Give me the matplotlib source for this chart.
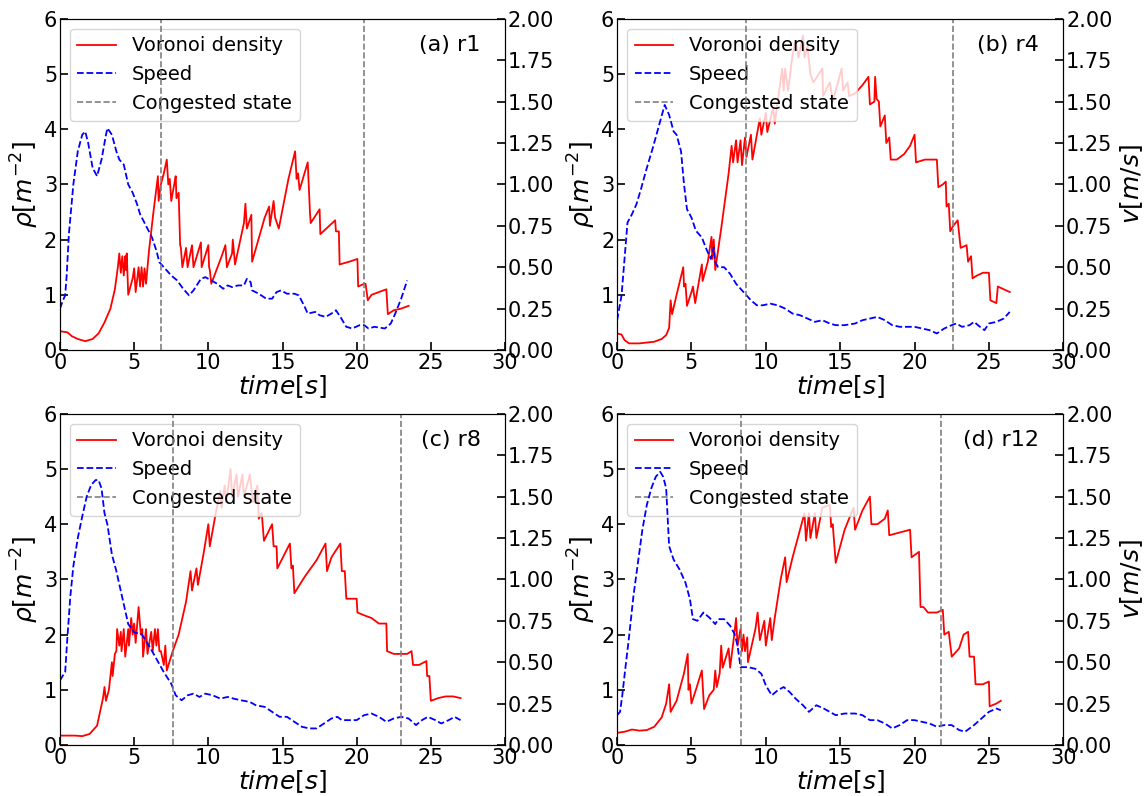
import matplotlib
matplotlib.use('Agg')
import matplotlib.pyplot as plt

# ---- (a) r1 ----
t_rho_a = [0, 0.5, 0.8, 1.2, 1.7, 2.2, 2.6, 3.0, 3.4, 3.7, 3.9, 4.0, 4.1, 4.2, 4.3, 4.4, 4.45, 4.5, 4.6,
           4.9, 5.0, 5.1, 5.3, 5.4, 5.5, 5.6, 5.7, 5.8, 6.0, 6.3, 6.6, 6.65, 6.8, 7.0, 7.2, 7.3, 7.4, 7.5,
           7.7, 7.8, 7.85, 8.0, 8.1, 8.15, 8.25, 8.5, 8.6, 8.9, 9.0, 9.5, 9.55, 10.0, 10.05, 10.1, 10.2,
           10.9, 11.15, 11.25, 11.6, 11.65, 11.8, 12.4, 12.5, 12.6, 12.9, 12.95, 13.8, 14.1, 14.15, 14.4,
           14.5, 14.75, 15.4, 15.85, 15.95, 16.05, 16.15, 16.7, 16.85, 16.9, 17.5, 17.55, 18.55, 18.6,
           18.8, 18.85, 19.5, 20.05, 20.1, 20.5, 20.6, 20.75, 21.0, 21.5, 22.0, 22.1, 22.5, 23.0, 23.5]
rho_a = [0.34, 0.32, 0.25, 0.2, 0.16, 0.2, 0.3, 0.5, 0.75, 1.1, 1.5, 1.75, 1.4, 1.7, 1.35, 1.7, 1.45, 1.75, 1.0,
         1.3, 1.48, 1.05, 1.5, 1.15, 1.5, 1.15, 1.48, 1.2, 1.8, 2.5, 3.15, 2.7, 3.0, 3.2, 3.45, 3.0, 3.1, 2.7,
         3.0, 3.15, 2.75, 2.85, 1.9, 1.85, 1.5, 1.85, 1.5, 1.9, 1.5, 1.95, 1.5, 1.9, 1.5, 1.45, 1.2,
         1.7, 1.9, 1.5, 1.75, 2.0, 1.55, 2.3, 2.65, 2.2, 2.45, 1.6, 2.4, 2.6, 2.25, 2.7,
         2.4, 2.2, 3.1, 3.6, 3.1, 3.2, 2.9, 3.4, 2.5, 2.3, 2.55, 2.1, 2.35, 2.15,
         2.15, 1.55, 1.6, 1.65, 1.15, 1.2, 1.2, 0.9, 1.0, 1.05, 1.1, 0.65, 0.72, 0.75, 0.8]
t_v_a = [0, 0.2, 0.35, 0.45, 0.6, 0.9, 1.2, 1.5, 1.7, 1.9, 2.2, 2.5, 2.8, 3.1, 3.2, 3.5, 3.8, 4.0, 4.3, 4.6,
         4.9, 5.2, 5.4, 5.8, 6.2, 6.5, 6.7, 7.0, 7.5, 7.9, 8.3, 8.7, 9.0, 9.5, 9.8, 10.2, 10.6, 11.0, 11.3,
         11.6, 12.0, 12.4, 12.6, 12.85, 12.95, 13.4, 13.9, 14.3, 14.6, 14.9, 15.3, 15.8, 16.1, 16.5, 16.7,
         17.2, 17.5, 17.9, 18.3, 18.6, 18.9, 19.3, 19.7, 20.2, 20.5, 20.8, 21.2, 21.9, 22.3, 22.6, 23.0, 23.4]
v_a = [0.25, 0.3, 0.33, 0.45, 0.7, 1.0, 1.2, 1.3, 1.32, 1.25, 1.1, 1.05, 1.15, 1.3, 1.34, 1.3, 1.2, 1.15, 1.12, 1.0,
       0.95, 0.88, 0.82, 0.75, 0.68, 0.6, 0.53, 0.5, 0.45, 0.42, 0.37, 0.33, 0.36, 0.43, 0.44, 0.42, 0.4, 0.37, 0.39,
       0.38, 0.39, 0.39, 0.43, 0.41, 0.36, 0.34, 0.31, 0.31, 0.35, 0.36, 0.34, 0.34, 0.33, 0.26, 0.22,
       0.23, 0.21, 0.2, 0.22, 0.24, 0.2, 0.14, 0.13, 0.15, 0.15, 0.13, 0.14, 0.13, 0.16, 0.22, 0.31, 0.42]
cong_a = [6.8, 20.5]

# ---- (b) r4 ----
t_rho_b = [0, 0.3, 0.5, 0.8, 1.5, 2.5, 3.0, 3.3, 3.5, 3.6, 3.7, 4.0, 4.45, 4.5, 4.6, 4.7, 5.0, 5.1, 5.25, 5.7,
           5.75, 6.1, 6.35, 6.4, 6.5, 6.6, 7.0, 7.5, 7.7, 7.8, 8.0, 8.1, 8.3, 8.4, 8.6, 8.7, 9.0, 9.1, 9.6,
           9.7, 10.0, 10.1, 10.5, 10.6, 10.9, 11.1, 11.2, 11.3, 11.5, 11.8, 12.0, 12.2, 12.5, 12.6, 12.8,
           13.0, 13.2, 13.8, 13.85, 14.3, 14.5, 15.1, 15.2, 15.5, 15.6, 16.0, 16.5, 16.9, 17.0, 17.3, 17.35,
           17.45, 17.6, 17.7, 18.0, 18.1, 18.3, 18.4, 18.8, 19.3, 19.7, 20.0, 20.1, 20.7, 21.5, 21.6, 21.9,
           22.1, 22.15, 22.3, 22.4, 22.6, 22.9, 23.1, 23.5, 23.6, 23.8, 23.9, 24.2, 24.6, 25.0, 25.1, 25.5,
           25.6, 26.0, 26.4]
rho_b = [0.3, 0.28, 0.18, 0.12, 0.12, 0.15, 0.2, 0.27, 0.4, 0.9, 0.65, 1.0, 1.5, 1.15, 1.2, 0.8, 1.05, 1.15, 0.85, 1.55,
         1.25, 1.6, 2.05, 1.65, 2.0, 1.45, 2.2, 3.2, 3.7, 3.4, 3.8, 3.4, 3.8, 3.35, 3.85, 3.5, 3.9, 3.45, 4.2,
         3.9, 4.3, 3.95, 4.4, 4.1, 4.7, 5.1, 4.7, 5.1, 4.7, 5.35, 5.6, 5.3, 5.7, 5.3, 5.5,
         5.0, 4.85, 5.1, 4.6, 4.85, 4.5, 5.1, 4.7, 4.85, 4.6, 4.65, 4.8, 4.95, 4.45, 4.5, 4.95,
         4.55, 4.5, 4.05, 4.25, 3.75, 3.85, 3.45, 3.45, 3.55, 3.7, 3.9, 3.4, 3.45, 3.45, 2.95, 3.0,
         3.05, 2.6, 2.65, 2.15, 2.25, 2.35, 1.85, 1.9, 1.6, 1.7, 1.3, 1.35, 1.4, 1.4, 0.9, 0.85,
         1.15, 1.1, 1.05]
t_v_b = [0, 0.3, 0.5, 0.7, 1.0, 1.3, 1.6, 2.0, 2.4, 2.8, 3.2, 3.5, 3.8, 4.0, 4.3, 4.5, 4.7, 5.0, 5.3, 5.7,
         6.0, 6.3, 6.5, 6.6, 6.8, 7.2, 7.6, 8.0, 8.5, 9.0, 9.4, 9.8, 10.3, 10.8, 11.3, 11.8, 12.3, 12.8,
         13.3, 13.8, 14.3, 14.7, 15.3, 16.0, 16.5, 17.0, 17.5, 18.0, 18.5, 19.0, 19.5, 20.0, 20.5, 21.0,
         21.5, 22.0, 22.5, 22.8, 23.2, 23.7, 24.0, 24.4, 24.7, 25.0, 25.5, 26.0, 26.4]
v_b = [0.18, 0.33, 0.55, 0.77, 0.82, 0.88, 0.97, 1.1, 1.22, 1.35, 1.48, 1.42, 1.32, 1.3, 1.2, 1.0, 0.85, 0.8, 0.72, 0.68,
       0.61, 0.55, 0.62, 0.53, 0.5, 0.5, 0.46, 0.4, 0.35, 0.3, 0.27, 0.27, 0.28, 0.27, 0.25, 0.22, 0.21, 0.19,
       0.17, 0.18, 0.16, 0.15, 0.15, 0.16, 0.18, 0.19, 0.2, 0.18, 0.15, 0.14, 0.14, 0.14, 0.13, 0.12,
       0.1, 0.13, 0.15, 0.16, 0.14, 0.15, 0.17, 0.14, 0.12, 0.16, 0.17, 0.19, 0.23]
cong_b = [8.7, 22.6]

# ---- (c) r8 ----
t_rho_c = [0, 1.0, 1.5, 2.0, 2.5, 2.7, 2.9, 3.0, 3.1, 3.3, 3.5, 3.55, 3.7, 3.8, 3.85, 4.0, 4.1, 4.15, 4.3, 4.4,
           4.6, 4.65, 4.8, 4.9, 5.0, 5.1, 5.3, 5.45, 5.55, 5.6, 5.8, 5.9, 6.15, 6.25, 6.4, 6.5, 6.6, 6.7,
           6.8, 7.0, 7.1, 7.2, 7.6, 8.0, 8.5, 8.8, 8.9, 9.2, 9.3, 9.7, 10.0, 10.1, 10.5, 10.8, 10.9, 11.1,
           11.2, 11.5, 11.6, 11.9, 12.0, 12.3, 12.4, 12.8, 13.0, 13.3, 13.4, 13.6, 13.75, 14.3, 14.4, 14.6,
           14.65, 15.5, 15.6, 15.7, 15.8, 16.5, 17.3, 17.9, 18.0, 18.3, 18.9, 19.0, 19.2, 19.3, 20.0, 20.05,
           20.5, 21.0, 21.5, 22.0, 22.05, 22.5, 23.0, 23.4, 23.7, 23.8, 24.2, 24.7, 24.75, 24.9, 25.0, 25.5,
           26.0, 26.5, 27.0]
rho_c = [0.17, 0.17, 0.16, 0.2, 0.35, 0.6, 0.85, 1.05, 0.8, 1.0, 1.5, 1.25, 1.65, 1.7, 2.1, 1.8, 2.05, 1.7, 2.1, 1.6,
         2.1, 1.8, 2.3, 2.0, 2.2, 1.85, 2.5, 2.0, 2.1, 1.6, 2.1, 1.65, 2.05, 1.7, 2.1, 1.8, 2.1, 1.7,
         1.7, 1.45, 1.8, 1.35, 1.7, 2.0, 2.6, 3.15, 2.8, 3.2, 2.9, 3.5, 4.0, 3.6, 4.2, 4.6, 4.3, 4.7,
         4.4, 5.0, 4.5, 4.9, 4.5, 4.9, 4.5, 4.9, 4.4, 4.7, 4.1, 4.2, 3.7, 4.0, 3.6, 3.6,
         3.2, 3.65, 3.2, 3.25, 2.75, 3.05, 3.35, 3.65, 3.15, 3.4, 3.65, 3.15, 3.15, 2.65, 2.65, 2.4,
         2.35, 2.3, 2.2, 2.2, 1.7, 1.65, 1.65, 1.65, 1.7, 1.45, 1.45, 1.52, 1.25, 1.25, 0.8, 0.85,
         0.88, 0.88, 0.85]
t_v_c = [0, 0.2, 0.35, 0.5, 0.7, 0.9, 1.2, 1.5, 1.8, 2.1, 2.4, 2.6, 2.8, 3.0, 3.2, 3.5, 3.8, 4.0, 4.3, 4.6,
         5.0, 5.5, 6.0, 6.5, 7.0, 7.5, 7.8, 8.2, 8.6, 9.0, 9.4, 9.8, 10.3, 10.8, 11.3, 11.7, 12.2, 12.8,
         13.2, 13.8, 14.3, 14.8, 15.3, 15.8, 16.3, 16.8, 17.3, 17.8, 18.3, 18.7, 19.0, 19.5, 20.0, 20.5,
         21.0, 21.5, 22.0, 22.5, 23.0, 23.5, 24.0, 24.4, 24.8, 25.3, 25.7, 26.2, 26.6, 27.0]
v_c = [0.39, 0.42, 0.44, 0.65, 0.9, 1.08, 1.25, 1.38, 1.5, 1.57, 1.6, 1.6, 1.55, 1.4, 1.33, 1.15, 1.05, 0.97, 0.85, 0.73,
       0.68, 0.67, 0.6, 0.52, 0.44, 0.37, 0.3, 0.27, 0.3, 0.31, 0.29, 0.31, 0.3, 0.28, 0.29, 0.28, 0.27, 0.26,
       0.24, 0.23, 0.2, 0.17, 0.17, 0.14, 0.11, 0.1, 0.1, 0.13, 0.16, 0.17, 0.15, 0.15, 0.15, 0.18,
       0.19, 0.17, 0.14, 0.16, 0.17, 0.16, 0.12, 0.15, 0.17, 0.15, 0.13, 0.15, 0.17, 0.15]
cong_c = [7.6, 23.0]

# ---- (d) r12 ----
t_rho_d = [0, 0.5, 1.0, 1.5, 2.0, 2.5, 3.0, 3.3, 3.5, 3.6, 4.0, 4.5, 4.75, 4.8, 4.9, 5.0, 5.3, 5.7, 5.85, 6.2,
           6.5, 6.6, 6.7, 6.9, 7.0, 7.1, 7.5, 7.6, 7.9, 8.0, 8.1, 8.3, 8.4, 8.5, 8.6, 8.75, 8.8, 9.3, 9.45,
           9.6, 9.9, 10.0, 10.3, 10.4, 10.6, 11.0, 11.3, 11.4, 11.8, 12.3, 12.6, 12.7, 12.9, 13.0, 13.3,
           13.4, 13.8, 14.3, 14.4, 14.5, 14.7, 15.3, 15.9, 16.0, 16.5, 17.0, 17.1, 17.5, 18.0, 18.2, 18.3,
           19.0, 19.7, 19.8, 20.3, 20.4, 20.6, 20.9, 21.5, 21.9, 22.0, 22.3, 22.5, 23.0, 23.3, 23.6, 23.7,
           24.0, 24.1, 24.6, 25.0, 25.05, 25.5, 25.8]
rho_d = [0.22, 0.24, 0.28, 0.26, 0.27, 0.33, 0.5, 0.75, 1.1, 0.6, 0.8, 1.3, 1.65, 1.0, 1.1, 0.75, 1.0, 1.35, 0.65, 0.9,
         1.0, 1.35, 1.05, 1.3, 1.8, 1.4, 1.75, 1.4, 2.05, 2.3, 1.8, 2.1, 1.7, 2.0, 1.7, 1.95, 1.5, 2.1, 2.4,
         1.9, 2.25, 1.8, 2.3, 1.9, 2.3, 3.0, 3.4, 2.95, 3.4, 3.9, 4.2, 3.7, 4.2, 3.75, 4.2,
         3.75, 4.3, 4.35, 3.95, 4.0, 3.3, 3.9, 4.3, 3.9, 4.25, 4.5, 4.0, 4.0, 4.1, 4.25, 3.8,
         3.85, 3.9, 3.4, 3.5, 2.5, 2.5, 2.4, 2.4, 2.45, 2.0, 2.05, 1.6, 1.75, 2.0, 2.05, 1.6,
         1.6, 1.1, 1.1, 1.15, 0.7, 0.75, 0.8]
t_v_d = [0, 0.2, 0.35, 0.5, 0.8, 1.1, 1.4, 1.7, 2.0, 2.3, 2.6, 2.9, 3.1, 3.3, 3.5, 3.8, 4.2, 4.6, 4.9, 5.1,
         5.4, 5.8, 6.2, 6.6, 6.8, 7.2, 7.6, 7.9, 8.1, 8.3, 8.8, 9.3, 9.7, 10.0, 10.4, 10.8, 11.2, 11.6,
         12.0, 12.5, 12.9, 13.4, 13.9, 14.3, 14.7, 15.3, 16.0, 16.5, 17.0, 17.5, 18.0, 18.5, 19.0, 19.5,
         20.0, 20.5, 21.0, 21.5, 22.0, 22.5, 23.0, 23.4, 24.0, 24.5, 25.0, 25.5, 25.8]
v_d = [0.18, 0.2, 0.3, 0.42, 0.65, 0.9, 1.1, 1.3, 1.45, 1.55, 1.62, 1.65, 1.62, 1.55, 1.2, 1.12, 1.06, 0.98, 0.88, 0.76,
       0.75, 0.8, 0.77, 0.73, 0.76, 0.76, 0.72, 0.67, 0.6, 0.47, 0.47, 0.46, 0.43, 0.36, 0.3, 0.33, 0.35, 0.32,
       0.28, 0.24, 0.2, 0.24, 0.22, 0.2, 0.18, 0.19, 0.19, 0.18, 0.15, 0.15, 0.13, 0.1, 0.12, 0.15,
       0.15, 0.14, 0.13, 0.11, 0.12, 0.12, 0.09, 0.08, 0.12, 0.16, 0.2, 0.22, 0.21]
cong_d = [8.3, 21.8]

panels = [
    ('(a) r1', t_rho_a, rho_a, t_v_a, v_a, cong_a, [0.0523, 0.5603, 0.388, 0.416], False),
    ('(b) r4', t_rho_b, rho_b, t_v_b, v_b, cong_b, [0.538, 0.5603, 0.389, 0.416], True),
    ('(c) r8', t_rho_c, rho_c, t_v_c, v_c, cong_c, [0.0523, 0.0641, 0.388, 0.416], False),
    ('(d) r12', t_rho_d, rho_d, t_v_d, v_d, cong_d, [0.538, 0.0641, 0.389, 0.416], True),
]

fig = plt.figure(figsize=(11.47, 7.96), dpi=100)

for name, tr, rho, tv, v, cong, rect, right_label in panels:
    ax = fig.add_axes(rect)
    ax2 = ax.twinx()
    l1, = ax.plot(tr, rho, color='red', lw=1.3, label='Voronoi density')
    l2, = ax2.plot(tv, v, color='blue', lw=1.3, ls='--', label='Speed')
    for c in cong:
        l3 = ax2.axvline(c, color='gray', lw=1.2, ls='--', label='Congested state')
    ax.set_xlim(0, 30)
    ax.set_ylim(0, 6)
    ax2.set_ylim(0, 2)
    ax.set_xticks([0, 5, 10, 15, 20, 25, 30])
    ax.set_yticks([0, 1, 2, 3, 4, 5, 6])
    ax2.set_yticks([0, 0.25, 0.5, 0.75, 1.0, 1.25, 1.5, 1.75, 2.0])
    ax2.set_yticklabels(['%.2f' % y for y in ax2.get_yticks()])
    ax.tick_params(direction='in', labelsize=15, length=6, width=1.2, pad=2)
    ax2.tick_params(direction='in', labelsize=15, length=6, width=1.2, pad=2)
    ax.set_xlabel('$time[s]$', fontsize=18, labelpad=0)
    ax.set_ylabel(r'$\rho[m^{-2}]$', fontsize=18, labelpad=2)
    if right_label:
        ax2.set_ylabel('$v[m/s]$', fontsize=18, labelpad=4)
    ax.legend(handles=[l1, l2, l3], loc='upper left', fontsize=14)
    ax.text(0.945, 0.92, name, transform=ax.transAxes, ha='right', va='center', fontsize=16)

plt.savefig('out.png', dpi=100)
